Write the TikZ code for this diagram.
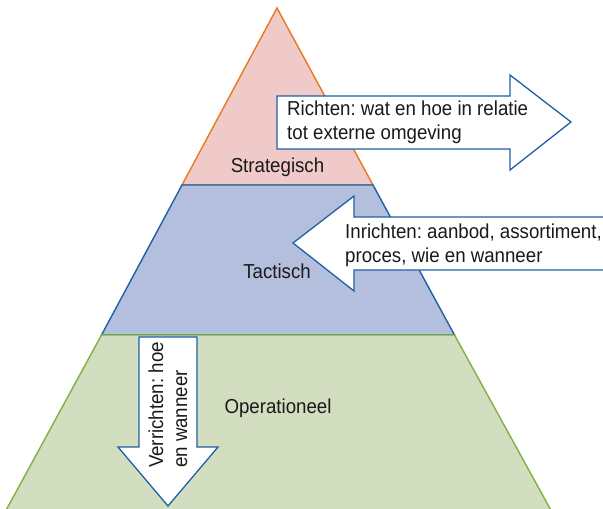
\documentclass[tikz,border=0pt]{standalone}
\usepackage{fontspec}
\setmainfont[FakeStretch=0.925]{Liberation Sans}
\frenchspacing
\definecolor{stratfill}{HTML}{F0C9C9}
\definecolor{stratline}{HTML}{E8791E}
\definecolor{tacfill}{HTML}{B3BFDD}
\definecolor{tacline}{HTML}{1F5FA6}
\definecolor{opfill}{HTML}{D3DEC1}
\definecolor{opline}{HTML}{7DB23E}
\definecolor{ink}{HTML}{1A1A1A}
\begin{document}
\begin{tikzpicture}[x=1pt,y=-1pt,
  layer/.style={line width=1.4pt, line join=miter},
  blockarrow/.style={fill=white, draw=tacline, line width=1.3pt, line join=miter},
  lbl/.style={font=\fontsize{20.2}{24}\selectfont, text=ink, inner sep=0pt}]
\useasboundingbox (0,0) rectangle (603,509);
\clip (0,0) rectangle (603,509);
\fill[white] (0,0) rectangle (603,509);

% pyramid layers, top to bottom
\filldraw[layer, fill=stratfill, draw=stratline]
  (277,8) -- (373,185) -- (182,185) -- cycle;
\filldraw[layer, fill=tacfill, draw=tacline]
  (182,185) -- (373,185) -- (454.5,335) -- (101.5,335) -- cycle;
\filldraw[layer, fill=opfill, draw=opline]
  (101.5,335) -- (454.5,335) -- (553,514) -- (4,514) -- cycle;

% block arrows
\draw[blockarrow] (277,96) -- (510,96) -- (510,75) -- (571,122)
  -- (510,170) -- (510,149) -- (277,149) -- cycle;
\draw[blockarrow] (620,217) -- (354,217) -- (354,196) -- (293,243)
  -- (354,291) -- (354,270) -- (620,270) -- cycle;
\draw[blockarrow] (139,337) -- (197,337) -- (197,447) -- (218,447)
  -- (168,506) -- (118,447) -- (139,447) -- cycle;

% labels
\node[lbl] (strat) at (277.5,167) {Strategisch};
\node[lbl] (tac) at (277,271) {Tactisch};
\node[lbl] (op) at (278,408) {Operationeel};
\node[lbl, anchor=west, align=left] (richten) at (287,122)
  {Richten: wat en hoe in relatie\\tot externe omgeving};
\node[lbl, anchor=west, align=left] (inrichten) at (345,245)
  {Inrichten: aanbod, assortiment,\\proces, wie en wanneer};
\node[lbl, rotate=90, align=left] (verrichten) at (168,405)
  {Verrichten: hoe\\en wanneer};
\end{tikzpicture}
\end{document}
